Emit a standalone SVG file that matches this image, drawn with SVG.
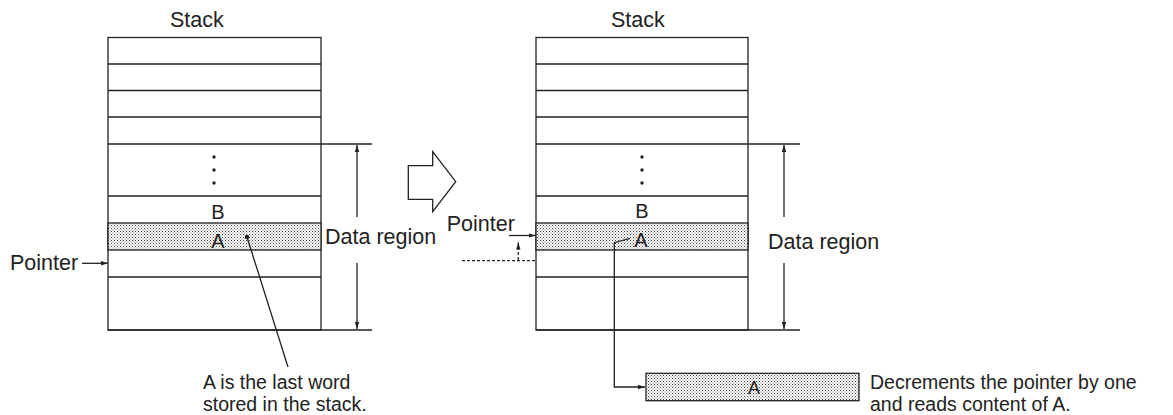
<svg xmlns="http://www.w3.org/2000/svg" width="1173" height="415" viewBox="0 0 1173 415">
<defs>
<pattern id="dots" width="3" height="3" patternUnits="userSpaceOnUse">
<rect width="3" height="3" fill="#ffffff"/>
<rect x="0" y="0" width="1" height="1" fill="#444"/>
<rect x="1.5" y="1.5" width="1" height="1" fill="#666"/>
</pattern>
<marker id="ah" markerWidth="8" markerHeight="6" refX="7" refY="3" orient="auto" markerUnits="userSpaceOnUse">
<path d="M0,0.8 L7,3 L0,5.2 Z" fill="#222"/>
</marker>
</defs>
<style>
.ln{stroke:#222;stroke-width:1.3;fill:none}
.box{stroke:#222;stroke-width:1.3;fill:#fff}
.sh{stroke:#222;stroke-width:1.3;fill:url(#dots)}
.t{font-family:"Liberation Sans",Arial,sans-serif;font-size:21.5px;fill:#222}
.c{font-family:"Liberation Sans",Arial,sans-serif;font-size:19.5px;fill:#222}
.tm{font-family:"Liberation Sans",Arial,sans-serif;font-size:20px;fill:#222;text-anchor:middle}
.dash{stroke:#222;stroke-width:1.3;fill:none;stroke-dasharray:3 2}
</style>
<rect width="1173" height="415" fill="#fff"/>

<g id="stack-left">
<text class="t" x="170" y="27">Stack</text>
<rect class="box" x="108" y="37.5" width="213" height="292.5"/>
<rect class="sh" x="108" y="223" width="213" height="27"/>
<path class="ln" d="M108,64H321M108,90.5H321M108,117H321M108,144H372M108,196H321M108,277H321M108,330H372"/>
<circle cx="214" cy="157" r="1.7" fill="#222"/>
<circle cx="214" cy="170" r="1.7" fill="#222"/>
<circle cx="214" cy="183" r="1.7" fill="#222"/>
<text class="tm" x="218" y="219">B</text>
<text class="tm" x="218" y="248">A</text>
<text class="t" x="325" y="244">Data region</text>
<text class="t" x="10" y="270">Pointer</text>
</g>

<g id="transition-arrow">
<polygon class="box" points="408.3,165.7 432.7,165.7 432.7,151.7 455.7,181.7 432.7,211.7 432.7,199.3 408.3,199.3"/>
</g>

<g id="stack-right">
<text class="t" x="611" y="27">Stack</text>
<rect class="box" x="536" y="37.5" width="212" height="292.5"/>
<rect class="sh" x="536" y="223" width="212" height="27"/>
<path class="ln" d="M536,64H748M536,90.5H748M536,117H748M536,144H800M536,196H748M536,277H748M536,330H800"/>
<circle cx="642" cy="157" r="1.7" fill="#222"/>
<circle cx="642" cy="170" r="1.7" fill="#222"/>
<circle cx="642" cy="183" r="1.7" fill="#222"/>
<text class="tm" x="642" y="218">B</text>
<text class="tm" x="641" y="247">A</text>
<text class="t" x="768" y="249">Data region</text>
<text class="t" x="446.7" y="231">Pointer</text>
</g>

<g id="read-box">
<rect class="sh" x="646" y="373.3" width="213" height="27.4"/>
<text class="tm" x="754" y="394" style="font-size:18px">A</text>
</g>

<g id="captions">
<text class="c" x="203" y="388.5">A is the last word</text>
<text class="c" x="203" y="410.5">stored in the stack.</text>
<text class="c" x="870" y="388.5">Decrements the pointer by one</text>
<text class="c" x="870" y="410.5">and reads content of A.</text>
</g>

<g id="connectors">
<line class="ln" x1="357" y1="217" x2="357" y2="145" marker-end="url(#ah)"/>
<line class="ln" x1="357" y1="263" x2="357" y2="329" marker-end="url(#ah)"/>
<line class="ln" x1="784" y1="217" x2="784" y2="145" marker-end="url(#ah)"/>
<line class="ln" x1="784" y1="263" x2="784" y2="329" marker-end="url(#ah)"/>
<line class="ln" x1="82" y1="263.3" x2="108" y2="263.3" marker-end="url(#ah)"/>
<line class="ln" x1="509" y1="235.5" x2="535.5" y2="235.5" marker-end="url(#ah)"/>
<line class="dash" x1="462" y1="260.7" x2="535.5" y2="260.7"/>
<line class="dash" x1="518.3" y1="260" x2="518.3" y2="242.5" marker-end="url(#ah)"/>
<circle cx="247" cy="237" r="2.2" fill="#222"/>
<line class="ln" x1="247" y1="237" x2="288" y2="367"/>
<polyline class="ln" points="630,238.3 614.3,242.7 614.3,387 645,387" marker-end="url(#ah)"/>
</g>
</svg>
